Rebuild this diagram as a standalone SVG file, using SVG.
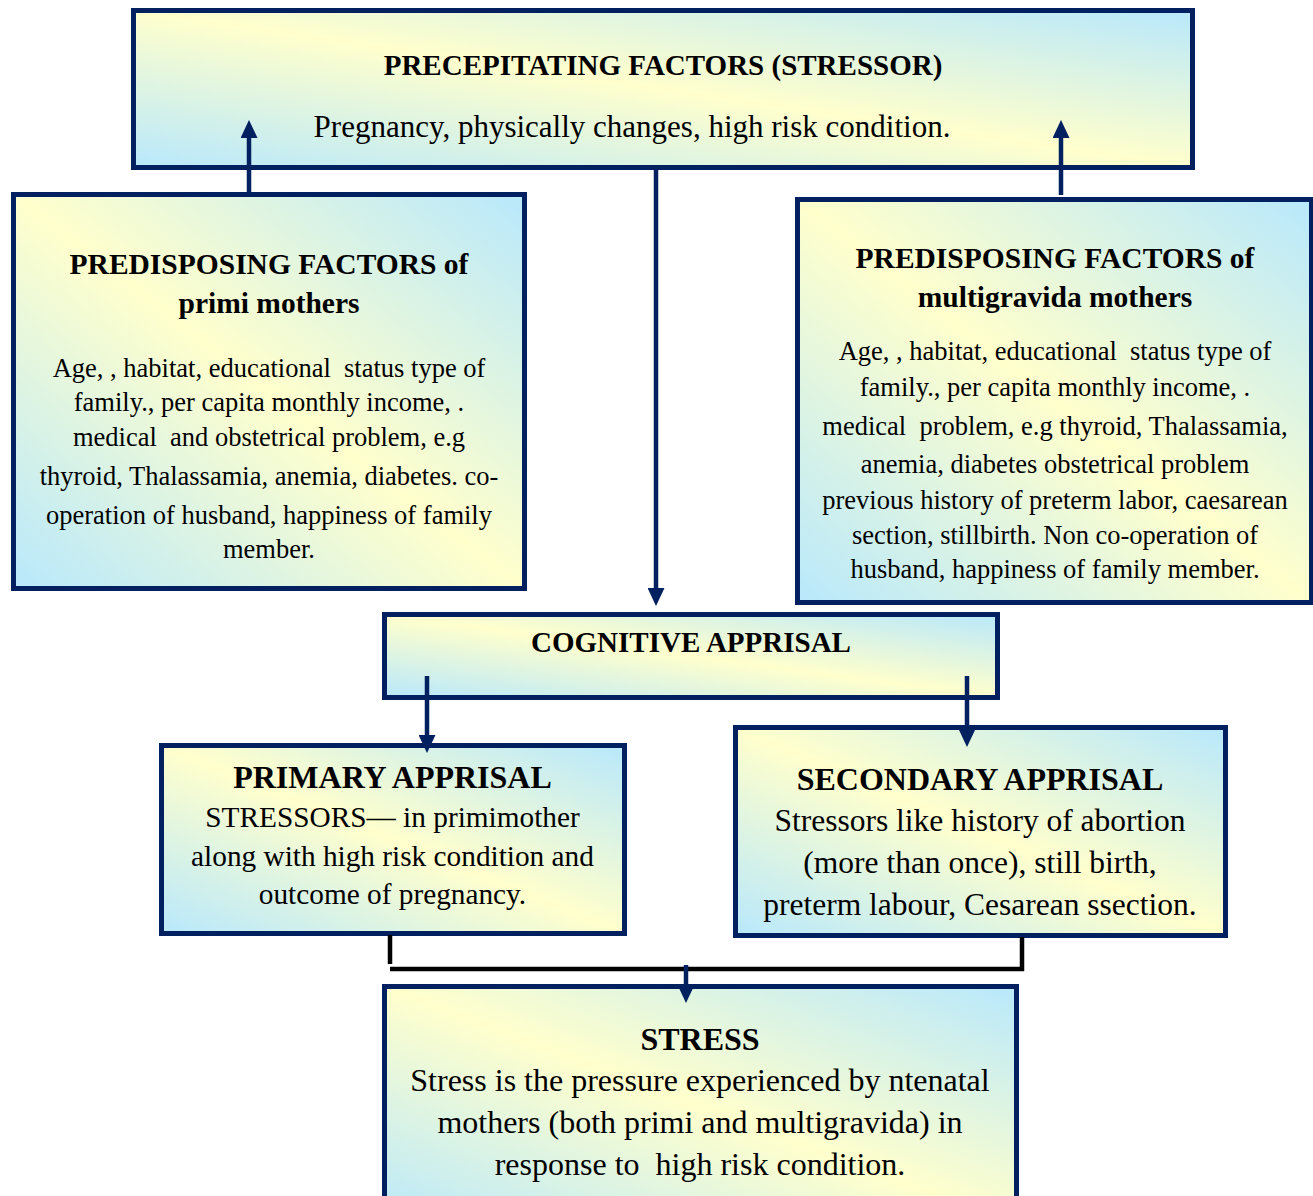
<svg xmlns="http://www.w3.org/2000/svg" width="1313" height="1196" viewBox="0 0 1313 1196">
<defs>
<linearGradient id="fill" x1="0" y1="1" x2="1" y2="0">
<stop offset="0" stop-color="#b8e8fc"/>
<stop offset="0.5" stop-color="#ffffcc"/>
<stop offset="1" stop-color="#b8e8fc"/>
</linearGradient>
<marker id="ah" viewBox="0 0 18 17" refX="0" refY="8.5" markerWidth="18" markerHeight="17" orient="auto" markerUnits="userSpaceOnUse">
<path d="M0,0 L18,8.5 L0,17 z" fill="#002060"/>
</marker>
<style>
.box{fill:url(#fill);stroke:#002060;stroke-width:5}
text{font-family:"Liberation Serif","Times New Roman",serif;fill:#000;text-anchor:middle;white-space:pre}
.b{font-weight:bold}
.arr{stroke:#002060;stroke-width:4.5;fill:none;marker-end:url(#ah)}
.blk{stroke:#000;stroke-width:4.5;fill:none}
</style>
</defs>
<rect width="1313" height="1196" fill="#fff"/>

<g id="precipitating">
<rect class="box" x="133.5" y="10.5" width="1059" height="157"/>
<text class="b" x="663" y="75" font-size="29">PRECEPITATING FACTORS (STRESSOR)</text>
<text x="632" y="137" font-size="31">Pregnancy, physically changes, high risk condition.</text>
</g>

<g id="predisposing-primi">
<rect class="box" x="13.5" y="194.5" width="511" height="394"/>
<text class="b" font-size="29.5" x="269" y="274">PREDISPOSING FACTORS of</text>
<text class="b" font-size="29.5" x="269" y="313">primi mothers</text>
<g font-size="26.5">
<text x="269" y="377" xml:space="preserve">Age, , habitat, educational  status type of</text>
<text x="269" y="411">family., per capita monthly income, .</text>
<text x="269" y="446" xml:space="preserve">medical  and obstetrical problem, e.g</text>
<text x="269" y="485">thyroid, Thalassamia, anemia, diabetes. co-</text>
<text x="269" y="524">operation of husband, happiness of family</text>
<text x="269" y="558">member.</text>
</g>
</g>

<g id="predisposing-multi">
<rect class="box" x="797.5" y="199.5" width="514" height="403"/>
<text class="b" font-size="29.5" x="1055" y="268">PREDISPOSING FACTORS of</text>
<text class="b" font-size="29.5" x="1055" y="307">multigravida mothers</text>
<g font-size="26.5">
<text x="1055" y="360" xml:space="preserve">Age, , habitat, educational  status type of</text>
<text x="1055" y="396">family., per capita monthly income, .</text>
<text x="1055" y="435" xml:space="preserve">medical  problem, e.g thyroid, Thalassamia,</text>
<text x="1055" y="473">anemia, diabetes obstetrical problem</text>
<text x="1055" y="509">previous history of preterm labor, caesarean</text>
<text x="1055" y="544">section, stillbirth. Non co-operation of</text>
<text x="1055" y="578">husband, happiness of family member.</text>
</g>
</g>

<g id="cognitive">
<rect class="box" x="384.5" y="614.5" width="613" height="83"/>
<text class="b" font-size="29" x="691" y="652">COGNITIVE APPRISAL</text>
</g>

<g id="primary">
<rect class="box" x="161.5" y="745.5" width="463" height="188"/>
<text class="b" font-size="32" x="392.5" y="788">PRIMARY APPRISAL</text>
<g font-size="29.3">
<text x="392.5" y="827">STRESSORS— in primimother</text>
<text x="392.5" y="866">along with high risk condition and</text>
<text x="392.5" y="904">outcome of pregnancy.</text>
</g>
</g>

<g id="secondary">
<rect class="box" x="735.5" y="727.5" width="490" height="208"/>
<text class="b" font-size="32" x="980" y="790">SECONDARY APPRISAL</text>
<g font-size="31.5">
<text x="980" y="831">Stressors like history of abortion</text>
<text x="980" y="873">(more than once), still birth,</text>
<text x="980" y="915">preterm labour, Cesarean ssection.</text>
</g>
</g>

<g id="stress">
<rect class="box" x="384.5" y="986.5" width="632" height="240"/>
<text class="b" font-size="32" x="700" y="1050">STRESS</text>
<g font-size="32">
<text x="700" y="1091">Stress is the pressure experienced by ntenatal</text>
<text x="700" y="1133">mothers (both primi and multigravida) in</text>
<text x="700" y="1175" xml:space="preserve">response to  high risk condition.</text>
</g>
</g>

<g id="connectors">
<line class="arr" x1="249" y1="192" x2="249" y2="138"/>
<line class="arr" x1="1061" y1="195" x2="1061" y2="138"/>
<line class="arr" x1="656" y1="170" x2="656" y2="588"/>
<line class="arr" x1="427" y1="676" x2="427" y2="735"/>
<line class="arr" x1="967" y1="676" x2="967" y2="729"/>
<line class="blk" x1="390" y1="935" x2="390" y2="964"/>
<line class="blk" x1="390" y1="969" x2="1024" y2="969"/>
<line class="blk" x1="1022" y1="937" x2="1022" y2="971"/>
<line class="arr" x1="686" y1="965" x2="686" y2="985"/>
</g>
</svg>
